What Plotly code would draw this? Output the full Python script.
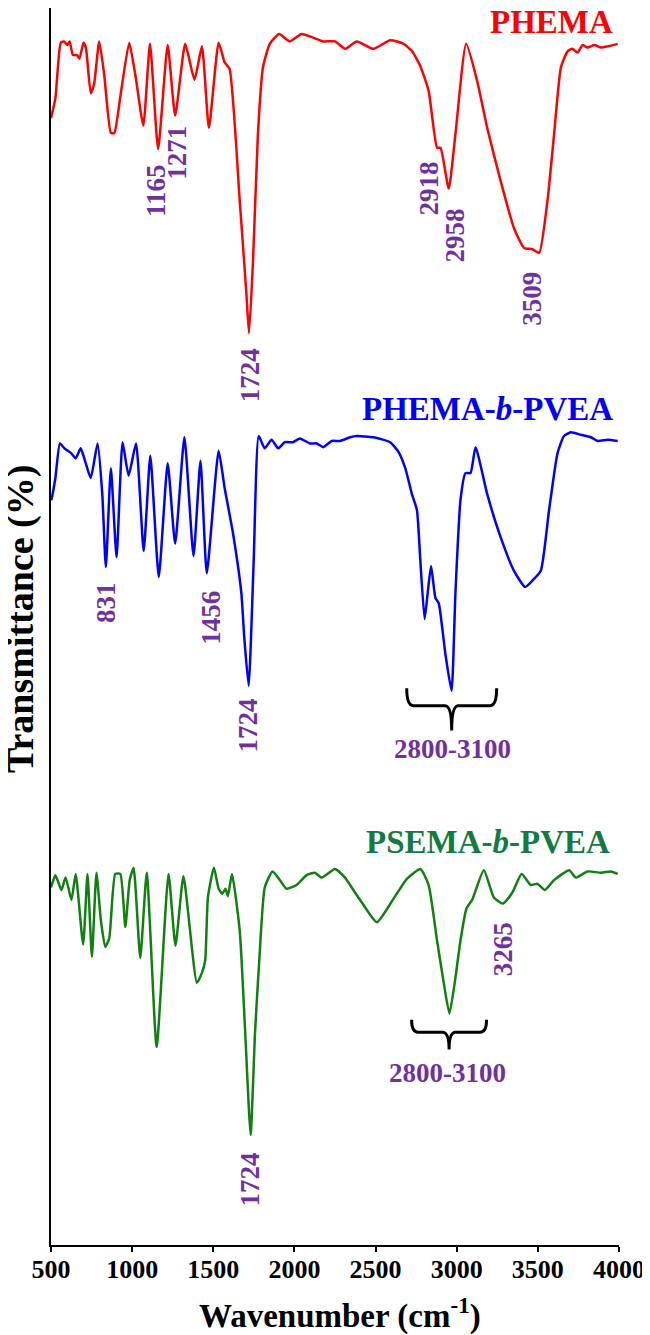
import plotly.graph_objects as go

# FTIR spectra (wavenumber in cm-1, stacked transmittance in axis units)
phema_wn = [500, 527, 560, 580, 600, 615, 635, 660, 675, 700, 715, 745, 766, 797, 828, 869,
            890, 929, 982, 1022, 1069, 1110, 1160, 1219, 1265, 1327, 1384, 1430, 1473, 1533,
            1570, 1600, 1663, 1703, 1720, 1745, 1775, 1806, 1848, 1906, 1972, 2044, 2116, 2178,
            2250, 2312, 2384, 2487, 2590, 2673, 2725, 2776, 2827, 2879, 2900, 2951, 2992, 3058,
            3126, 3188, 3271, 3353, 3415, 3467, 3508, 3559, 3600, 3642, 3683, 3713, 3744, 3775,
            3806, 3848, 3889, 3930, 3992]
phema_t = [91.1, 92.7, 97.2, 97.3, 97.0, 97.3, 96.2, 96.2, 95.9, 97.2, 96.8, 93.1, 93.9, 97.3,
           94.6, 89.9, 89.9, 93.0, 97.2, 94.4, 90.5, 97.1, 88.6, 97.0, 91.3, 97.1, 94.2, 96.9,
           90.3, 97.2, 95.6, 95.1, 84.4, 77.1, 73.7, 79.6, 89.8, 95.2, 97.1, 97.9, 97.3, 97.9,
           97.6, 97.3, 97.3, 96.7, 97.3, 96.7, 97.4, 97.1, 96.5, 95.3, 93.3, 88.7, 88.7, 85.4,
           89.8, 97.1, 94.1, 90.3, 86.0, 82.2, 80.6, 80.5, 80.2, 84.4, 89.8, 95.2, 96.5, 96.7,
           96.4, 97.0, 96.8, 97.0, 96.8, 96.9, 97.1]

pvea_wn = [500, 505, 527, 555, 583, 625, 652, 683, 714, 745, 787, 816, 838, 869, 904, 941, 978,
           1024, 1071, 1112, 1164, 1219, 1265, 1322, 1378, 1421, 1460, 1533, 1570, 1622, 1673,
           1691, 1718, 1749, 1780, 1817, 1859, 1900, 1941, 1990, 2034, 2095, 2137, 2178, 2230,
           2281, 2343, 2384, 2487, 2590, 2642, 2683, 2724, 2755, 2776, 2802, 2821, 2842, 2869,
           2889, 2930, 2968, 2992, 3023, 3054, 3085, 3116, 3188, 3271, 3353, 3421, 3466, 3518,
           3569, 3621, 3661, 3703, 3765, 3827, 3868, 3930, 3992]
pvea_t = [60.2, 60.4, 62.0, 64.8, 64.4, 64.0, 63.6, 64.4, 63.2, 62.0, 64.8, 60.7, 54.8, 62.8,
          55.6, 64.9, 62.2, 64.8, 56.1, 63.8, 54.0, 63.2, 56.7, 65.3, 55.7, 63.4, 54.3, 64.2,
          61.2, 57.5, 52.7, 49.1, 45.2, 55.3, 65.4, 64.4, 65.1, 64.4, 64.9, 64.9, 65.2, 64.8,
          64.8, 64.5, 65.0, 65.0, 65.3, 65.4, 65.3, 64.9, 64.1, 62.8, 60.7, 59.4, 55.3, 50.6,
          52.7, 54.9, 52.3, 51.9, 47.8, 44.8, 52.7, 60.2, 62.4, 62.4, 64.5, 60.7, 57.2, 54.5,
          53.2, 53.7, 54.5, 59.4, 64.0, 65.4, 65.7, 65.5, 65.3, 65.0, 65.1, 65.0]

psema_wn = [500, 527, 564, 590, 626, 652, 698, 725, 752, 780, 807, 834, 859, 896, 927, 958, 985,
            1009, 1050, 1090, 1151, 1224, 1267, 1316, 1399, 1430, 1450, 1467, 1504, 1533, 1556,
            1575, 1590, 1615, 1663, 1697, 1730, 1757, 1786, 1817, 1865, 1910, 1951, 2013, 2075,
            2126, 2168, 2250, 2312, 2343, 2420, 2508, 2611, 2693, 2776, 2827, 2879, 2920, 2955,
            2992, 3023, 3060, 3095, 3167, 3229, 3285, 3343, 3400, 3456, 3497, 3543, 3600, 3693,
            3734, 3806, 3889, 3951, 3992]
psema_t = [28.9, 29.9, 28.7, 29.7, 27.9, 30.0, 24.3, 30.0, 23.3, 30.1, 26.3, 24.1, 24.8, 30.0,
           30.0, 25.7, 29.5, 30.5, 23.2, 30.1, 16.0, 30.0, 24.2, 29.8, 21.2, 22.0, 23.0, 28.1,
           30.5, 28.8, 28.4, 28.8, 28.2, 30.0, 25.4, 17.1, 8.9, 17.1, 23.6, 28.9, 30.2, 29.5,
           28.8, 29.1, 29.9, 30.1, 29.7, 30.4, 29.7, 29.1, 27.6, 26.1, 28.0, 29.6, 30.4, 29.1,
           24.6, 21.2, 18.7, 21.6, 24.6, 27.2, 27.9, 30.3, 28.1, 27.6, 28.5, 30.0, 29.1, 29.2,
           28.7, 29.5, 30.3, 29.7, 30.2, 30.1, 30.2, 30.0]

series_names = ["<b>PHEMA</b>", "<b>PHEMA-<i>b</i>-PVEA</b>", "<b>PSEMA-<i>b</i>-PVEA</b>"]
series_colors = ["#FF0000", "#0000FF", "#118011"]
label_colors = ["#FF0000", "#0000FF", "#127B3F"]
label_pos = [(3587, 98.9), (3187, 67.6), (3193, 32.6)]

# peak labels: text, wavenumber, y position
peak_text = ["1165", "1271", "1724", "2918", "2958", "3509", "831", "1456", "1724", "1724", "3265"]
peak_x = [1147, 1276, 1726, 2829, 2989, 3464, 839, 1486, 1714, 1726, 3285]
peak_y = [85.2, 88.3, 70.3, 85.4, 81.6, 76.5, 51.9, 50.7, 42.0, 5.3, 23.9]

# braces over the 2800-3100 region: (left, right, top, mid, tip), text y
brace_spans = [(2692, 3246, 45.0, 43.6, 41.6), (2722, 3184, 18.2, 17.2, 15.8)]
brace_text_y = [40.1, 13.9]
brace_text_x = [2977, 2946]

serif = "Liberation Serif, Times New Roman, serif"
purple = "#7030A0"

fig = go.Figure()
for wn, t, c in [(phema_wn, phema_t, series_colors[0]),
                 (pvea_wn, pvea_t, series_colors[1]),
                 (psema_wn, psema_t, series_colors[2])]:
    fig.add_trace(go.Scatter(x=wn, y=t, mode="lines",
                             line=dict(color=c, width=2.5, shape="spline", smoothing=0.5),
                             showlegend=False))

annotations = []
for name, col, (ax, ay) in zip(series_names, label_colors, label_pos):
    annotations.append(dict(x=ax, y=ay, text=name, showarrow=False,
                            xanchor="center", yanchor="middle",
                            font=dict(family=serif, size=33, color=col)))
for txt, ax, ay in zip(peak_text, peak_x, peak_y):
    annotations.append(dict(x=ax, y=ay, text="<b>" + txt + "</b>", showarrow=False, textangle=-90,
                            xanchor="center", yanchor="middle",
                            font=dict(family=serif, size=27, color=purple)))
for bx, by in zip(brace_text_x, brace_text_y):
    annotations.append(dict(x=bx, y=by, text="<b>2800-3100</b>", showarrow=False,
                            xanchor="center", yanchor="middle",
                            font=dict(family=serif, size=27, color=purple)))
annotations.append(dict(x=0, xref="paper", xshift=-31, y=50.6, text="<b>Transmittance (%)</b>",
                        showarrow=False, textangle=-90, xanchor="center", yanchor="middle",
                        font=dict(family=serif, size=38, color="black")))
annotations.append(dict(x=2281, y=0, yref="paper", yshift=-68, xanchor="center", yanchor="middle",
                        text="<b>Wavenumber (cm<sup>-1</sup>)</b>", showarrow=False,
                        font=dict(family=serif, size=33, color="black")))

shapes = []
for x0, x1, ytop, ymid, ytip in brace_spans:
    xm = (x0 + x1) / 2
    d = 40
    path = (f"M {x0},{ytop} Q {x0},{ymid} {x0 + d},{ymid} L {xm - d},{ymid} "
            f"Q {xm},{ymid} {xm},{ytip} Q {xm},{ymid} {xm + d},{ymid} "
            f"L {x1 - d},{ymid} Q {x1},{ymid} {x1},{ytop}")
    shapes.append(dict(type="path", path=path, xref="x", yref="y",
                       line=dict(color="black", width=3)))

# page body adds an 8 px offset, so the figure is 8 px smaller than the window
fig.update_layout(
    width=642, height=1327,
    margin=dict(l=43, r=31, t=0, b=90),
    plot_bgcolor="white", paper_bgcolor="white",
    annotations=annotations, shapes=shapes,
    xaxis=dict(range=[500, 4000], tickvals=[500, 1000, 1500, 2000, 2500, 3000, 3500, 4000],
               showline=True, linecolor="black", linewidth=2, ticks="outside", ticklen=5,
               tickwidth=2, tickcolor="black", showgrid=False, zeroline=False,
               ticklabelstandoff=-5, automargin=False,
               tickfont=dict(family=serif, size=26, color="black", weight="bold")),
    yaxis=dict(range=[0, 100], showline=True, linecolor="black", linewidth=2, showgrid=False,
               zeroline=False, showticklabels=False, ticks="", automargin=False),
)

fig.write_html("out.html")
